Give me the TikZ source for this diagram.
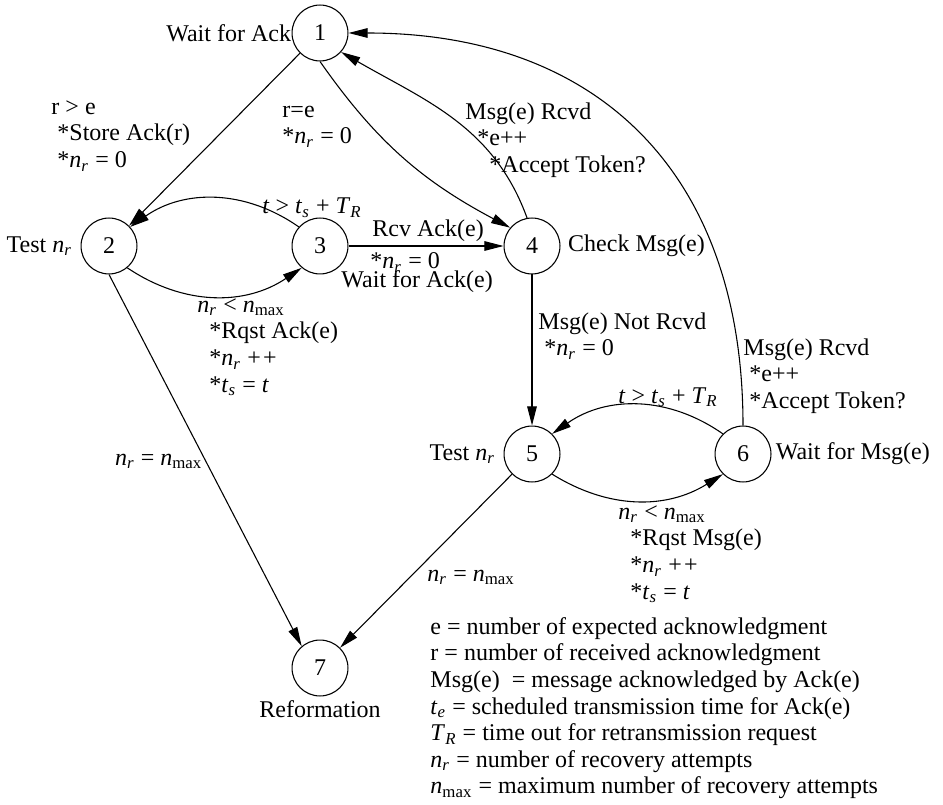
\documentclass[tikz,border=0pt]{standalone}
\usepackage{fontspec}
\setmainfont{Liberation Serif}
\usetikzlibrary{arrows.meta}

% italic symbols with subscripts, set in the text font
\newcommand\nr{\textit{n}\textsubscript{\textit{r}}}
\newcommand\nmx{\textit{n}\textsubscript{max}}
\newcommand\tsx{\textit{t}\textsubscript{\textit{s}}}
\newcommand\tev{\textit{t}\textsubscript{\textit{e}}}
\newcommand\trx{\textit{T}\textsubscript{\textit{R}}}
\newcommand\indnt[1]{\hspace*{#1em}}

\tikzset{
  state/.style={circle, draw, line width=0.45pt, minimum size=23.3pt, inner sep=0pt},
  edge/.style={line width=0.45pt, -{Triangle[length=8pt, width=4pt]}},
  lbl/.style={inner sep=0pt},
  block/.style={inner sep=0pt, anchor=north west, align=left},
}

\begin{document}
\begin{tikzpicture}[x=0.41667pt, y=-0.41667pt, font=\fontsize{10}{11.1}\selectfont]
\useasboundingbox (0,0) rectangle (943,804);

% states
\node[state] (n1) at (320,33)  {1};
\node[state] (n2) at (109,246) {2};
\node[state] (n3) at (320,246) {3};
\node[state] (n4) at (532,246) {4};
\node[state] (n5) at (532,454) {5};
\node[state] (n6) at (743,454) {6};
\node[state] (n7) at (320,668) {7};

% state names
\node[lbl, anchor=east] (w1) at (n1.west) {Wait for Ack};
\node[lbl, anchor=east] (w2) at ([xshift=-3.3pt]n2.west) {Test \nr};
\node[lbl, anchor=base west] (w3) at (341,288) {Wait for Ack(e)};
\node[lbl, anchor=west] (w4) at ([xshift=3pt]n4.east) {Check Msg(e)};
\node[lbl, anchor=east] (w5) at ([xshift=-3.3pt]n5.west) {Test \nr};
\node[lbl, anchor=west] (w6) at ([xshift=1.6pt]n6.east) {Wait for Msg(e)};
\node[lbl, anchor=base] (w7) at (320,717) {Reformation};

% transitions
\draw[edge] (n1) -- (n2);
\draw[edge] (n1.south) to[out=-55, in=152] (n4.140);
\draw[edge] (n4.100) to[out=110, in=-30] (n1.-42);
\draw[edge] (n6.north) .. controls +(0,-252) and +(250,0) .. (n1.east);
\draw[edge] (n2.-50) to[bend right=34] (n3.-130);
\draw[edge] (n3.138) to[bend right=35] (n2.42);
\draw[edge] (n3) -- (n4);
\draw[edge] (n4) -- (n5);
\draw[edge] (n6.135) to[bend right=35] (n5.45);
\draw[edge] (n5.-45) to[bend right=32] (n6.-135);
\draw[edge] (n2.south) -- (n7.130);
\draw[edge] (n5) -- (n7);

% transition labels
\node[block] (tA) at (51,95) {\strut r > e\\ \indnt{.25}*Store Ack(r)\\ \indnt{.25}*\nr{} = 0};
\node[block] (tB) at (282,98) {\strut r=e\\ *\nr{} = 0};
\node[block] (tC) at (465,100) {\strut Msg(e) Rcvd\\ \indnt{.5}*e++\\ \indnt{1}*Accept Token?};
\node[block] (tD) at (743,336) {\strut Msg(e) Rcvd\\ \indnt{.25}*e++\\ \indnt{.25}*Accept Token?};
\node[lbl, anchor=base west] (tE) at (262,214) {\textit{t} > \tsx{} + \trx};
\node[block] (tF) at (197,293) {\strut\nr{} < \nmx\\ \indnt{.5}*Rqst Ack(e)\\ \indnt{.5}*\nr{} +\kern.1em+\\ \indnt{.5}*\tsx{} = \textit{t}};
\node[lbl, anchor=base west] (tG1) at (372,237) {Rcv Ack(e)};
\node[lbl, anchor=base west] (tG2) at (370,269) {*\nr{} = 0};
\node[block] (tH) at (538,310) {\strut Msg(e) Not Rcvd\\ \indnt{.25}*\nr{} = 0};
\node[lbl, anchor=base west] (tI) at (618,403) {\textit{t} > \tsx{} + \trx};
\node[block] (tJ) at (618,500) {\strut\nr{} < \nmx\\ \indnt{.5}*Rqst Msg(e)\\ \indnt{.5}*\nr{} +\kern.1em+\\ \indnt{.5}*\tsx{} = \textit{t}};
\node[lbl, anchor=base east] (tK) at (203,465) {\nr{} = \nmx};
\node[lbl, anchor=base west] (tL) at (427,581) {\nr{} = \nmx};

% legend
\node[block] (key) at (430,615) {\strut e = number of expected acknowledgment\\
r = number of received acknowledgment\\
Msg(e)\ \ = message acknowledged by Ack(e)\\
\tev{} = scheduled transmission time for Ack(e)\\
\trx{} = time out for retransmission request\\
\nr{} = number of recovery attempts\\
\nmx{} = maximum number of recovery attempts};
\end{tikzpicture}
\end{document}
